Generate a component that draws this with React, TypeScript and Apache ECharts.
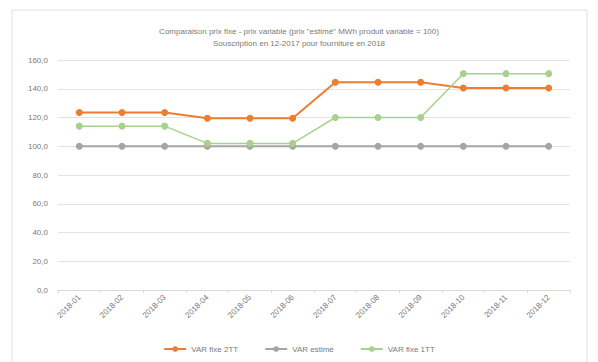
import React, { useEffect, useRef } from "react";
import * as echarts from "echarts";

const categories = ["2018-01","2018-02","2018-03","2018-04","2018-05","2018-06","2018-07","2018-08","2018-09","2018-10","2018-11","2018-12"];
const varFixe2TT = [123.5,123.5,123.5,119.5,119.5,119.5,144.5,144.5,144.5,140.5,140.5,140.5];
const varEstime = [100,100,100,100,100,100,100,100,100,100,100,100];
const varFixe1TT = [114,114,114,102,102,102,120,120,120,150.5,150.5,150.5];
const titleLines = [
  'Comparaison prix fixe - prix variable (prix "estimé" MWh produit variable = 100)',
  "Souscription en 12-2017 pour fourniture en 2018",
];

export default function App() {
  const ref = useRef<HTMLDivElement>(null);
  useEffect(() => {
    if (!ref.current) return;
    const chart = echarts.init(ref.current, null, { renderer: "svg" });
    const font = "Liberation Sans";
    const mk = (name: string, data: number[], color: string, w: number) => ({
      name,
      type: "line",
      data,
      symbol: "circle",
      symbolSize: 7,
      itemStyle: { color },
      lineStyle: { color, width: w },
    });
    chart.setOption({
      animation: false,
      backgroundColor: "#fff",
      textStyle: { fontFamily: font },
      title: {
        text: titleLines.join("\n"),
        left: "center",
        top: 20,
        textStyle: { fontSize: 8, fontWeight: "normal", color: "#7a7a7a", lineHeight: 12, fontFamily: font },
      },
      graphic: [
        {
          type: "rect",
          shape: { x: 12, y: 10, width: 575, height: 360 },
          style: { fill: "none", stroke: "#e0e0e0", lineWidth: 1 },
          silent: true,
        },
      ],
      legend: {
        top: 340,
        left: "center",
        itemWidth: 22,
        itemHeight: 7,
        itemGap: 26,
        textStyle: { fontSize: 8, color: "#7a7a7a", fontFamily: font },
        data: ["VAR fixe 2TT", "VAR estimé", "VAR fixe 1TT"],
      },
      grid: { left: 58, right: 28, top: 60, bottom: 72, containLabel: false },
      xAxis: {
        type: "category",
        data: categories,
        boundaryGap: true,
        axisLine: { lineStyle: { color: "#d9d9d9" } },
        axisTick: { show: true, length: 3, lineStyle: { color: "#d9d9d9" } },
        axisLabel: { rotate: 45, fontSize: 8, color: "#7a7a7a", margin: 6 },
      },
      yAxis: {
        type: "value",
        min: 0,
        max: 160,
        interval: 20,
        axisLine: { show: false },
        axisTick: { show: false },
        splitLine: { lineStyle: { color: "#e3e3e3" } },
        axisLabel: {
          fontSize: 8,
          color: "#7a7a7a",
          margin: 10,
          formatter: (v: number) => v.toFixed(1).replace(".", ","),
        },
      },
      series: [
        mk("VAR fixe 2TT", varFixe2TT, "#ED7D31", 2),
        mk("VAR estimé", varEstime, "#A5A5A5", 2),
        mk("VAR fixe 1TT", varFixe1TT, "#A9D18E", 1.5),
      ],
    });
    return () => chart.dispose();
  }, []);
  return (
    <div
      ref={ref}
      style={{ position: "fixed", left: 0, top: 0, width: 598, height: 362 }}
    />
  );
}
